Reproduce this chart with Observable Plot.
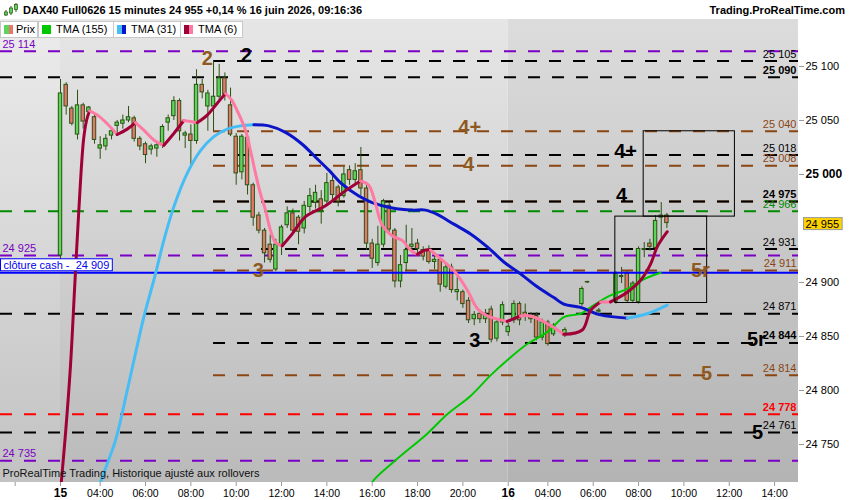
<!DOCTYPE html>
<html><head><meta charset="utf-8">
<script src="https://cdn.jsdelivr.net/npm/d3@7"></script>
<script src="https://cdn.jsdelivr.net/npm/@observablehq/plot@0.6"></script>
<style>
html,body{margin:0;padding:0;background:#fff;}
#wrap{position:relative;width:850px;height:500px;overflow:hidden;font-family:"Liberation Sans",Arial,sans-serif;}
#chart{position:absolute;left:0;top:19px;}
#head{position:absolute;left:0;top:0;width:850px;height:19px;background:#fff;}
#head .t{position:absolute;top:4px;font-weight:bold;font-size:11px;line-height:13px;color:#000;white-space:nowrap;}
.lg{position:absolute;top:21px;height:17px;background:#fff;border:1px solid #c8c8c8;box-sizing:border-box;font-size:11px;line-height:15px;color:#000;white-space:nowrap;}
.sw{position:absolute;top:3px;width:9px;height:9px;}
.sw i{position:absolute;top:0;width:4.5px;height:9px;}
</style></head><body>
<div id="wrap">
  <div id="chart"></div>
  <div id="head">
    <svg style="position:absolute;left:4px;top:3px" width="14" height="14">
      <line x1="2" y1="7" x2="2" y2="13" stroke="#2a5210"/><rect x="0.5" y="9" width="3" height="3" fill="#5ad75a" stroke="#2a5210" stroke-width="0.7"/>
      <line x1="7" y1="3" x2="7" y2="12" stroke="#2a5210"/><rect x="5.5" y="5" width="3" height="5" fill="#5ad75a" stroke="#2a5210" stroke-width="0.7"/>
      <line x1="12" y1="0" x2="12" y2="9" stroke="#2a5210"/><rect x="10.5" y="1.5" width="3" height="5" fill="#5ad75a" stroke="#2a5210" stroke-width="0.7"/>
    </svg>
    <span class="t" style="left:23px">DAX40 Full0626 15 minutes 24 955 +0,14 % 16 juin 2026, 09:16:36</span>
    <span class="t" style="right:5px">Trading.ProRealTime.com</span>
  </div>
  <div class="lg" style="left:0;width:38px"><span class="sw" style="left:3px"><i style="left:0;background:#5ad75a"></i><i style="left:4.5px;background:#e8766e"></i></span><span style="position:absolute;left:15px">Prix</span></div>
  <div class="lg" style="left:38px;width:76px"><span class="sw" style="left:3px;background:#00c800"></span><span style="position:absolute;left:17px">TMA (155)</span></div>
  <div class="lg" style="left:113px;width:68px"><span class="sw" style="left:3px"><i style="left:0;background:#46bdf5"></i><i style="left:4.5px;background:#0a14c8"></i></span><span style="position:absolute;left:17px">TMA (31)</span></div>
  <div class="lg" style="left:180px;width:63px"><span class="sw" style="left:3px"><i style="left:0;background:#a00038"></i><i style="left:4.5px;background:#ff7aa2"></i></span><span style="position:absolute;left:17px">TMA (6)</span></div>
</div>
<script>
// ---------- DATA ----------
// bar index: 0 = 15 juin 02:15, one bar per 15 minutes, 79 = 16 juin 02:15
const candleI = [0,1,2,3,4,5,6,7,8,9,10,11,12,13,14,15,16,17,18,19,20,21,22,23,24,25,26,27,28,29,30,31,32,33,34,35,36,37,38,39,40,41,42,43,44,45,46,47,48,49,50,51,52,53,54,55,56,57,58,59,60,61,62,63,64,65,66,67,68,69,70,71,72,73,74,75,76,77,78,79,80,81,82,83,84,85,86,87,89,92,93,95,98,99,100,101,102,103,104,105,106,107];
const open  = [24925,25083,25061,25037,25064,25058,25053,25024,25026,25036,25045,25047,25050,25052,25033,25028,25023,25024,25027,25048,25054,25068,25036,25037,25031,25083,25063,25063,25072,25089,25064,25035,25002,25034,24990,24962,24948,24935,24912,24935,24953,24964,24960,24950,24970,24974,24977,24975,24994,24988,24980,25004,24995,25004,24987,24936,24918,24935,24971,24948,24901,24918,24933,24936,24930,24930,24919,24921,24896,24914,24891,24891,24883,24866,24871,24866,24875,24848,24863,24854,24865,24880,24872,24868,24869,24849,24863,24852,24851,24880,24900,24873,24882,24905,24908,24883,24882,24930,24936,24932,24960,24962];
const high  = [25088,25085,25063,25078,25066,25063,25055,25035,25037,25043,25050,25055,25063,25054,25035,25030,25028,25029,25046,25055,25072,25070,25040,25046,25097,25088,25078,25105,25102,25094,25080,25038,25037,25036,24992,24965,24950,24944,24940,24953,24970,24968,24962,24975,24987,24990,24985,25001,25000,24990,25007,25008,25010,25025,24990,24940,24952,24977,24974,24950,24925,24953,24950,24940,24933,24934,24926,24923,24918,24917,24905,24893,24886,24873,24874,24875,24878,24866,24882,24862,24883,24882,24880,24872,24872,24866,24865,24862,24858,24896,24901,24876,24910,24914,24910,24901,24933,24937,24940,24962,24974,24964];
const low   = [24915,25055,25045,25032,25042,25055,25028,25014,25022,25032,25036,25042,25048,25030,25022,25010,25018,25016,25024,25040,25050,25031,25024,25006,25028,25070,25040,25040,25068,25068,25035,24990,24995,24981,24952,24945,24918,24918,24910,24925,24950,24945,24935,24945,24965,24968,24954,24972,24975,24970,24978,24990,24990,24980,24930,24913,24915,24932,24945,24895,24895,24910,24928,24925,24920,24917,24912,24891,24894,24890,24883,24876,24862,24860,24862,24862,24844,24845,24860,24850,24862,24860,24864,24862,24846,24846,24841,24850,24849,24878,24899,24871,24880,24899,24881,24881,24880,24923,24929,24930,24940,24950];
const close = [25075,25063,25047,25064,25049,25062,25032,25027,25033,25040,25048,25050,25053,25033,25026,25018,25026,25027,25044,25052,25068,25040,25038,25031,25083,25076,25075,25072,25089,25074,25037,25001,25035,24990,24960,24948,24927,24921,24935,24951,24964,24948,24947,24971,24980,24983,24966,24992,24981,24975,25000,24995,25003,24987,24936,24922,24935,24975,24949,24901,24916,24930,24935,24931,24924,24919,24921,24898,24914,24893,24893,24880,24865,24870,24866,24870,24847,24863,24879,24859,24880,24865,24868,24866,24849,24863,24843,24860,24856,24894,24900.5,24874,24908,24906,24883,24899,24931,24931,24933,24957,24962,24955];

// TMA (6): points; up = 1 rising (dark red), 0 falling (pink)
const tma6I = [0,0.88,1.76,2.47,3.18,4.06,4.59,5.12, 6.76,8.24,10.0, 11.77,13.23, 14.70,16.46,18.23, 19.99,21.76, 22.94,24.12, 25.89,27.65,29.12, 30.17,31.18,32.64,33.53,34.41,35.29,36.17,37.06,37.94,39.12, 40.89,43.23,46.76,50.29,52.94, 54.40,55.58,56.77,58.53,60.30,61.76,62.94, 64.41,65.29, 67.05,69.40,71.77,73.53,75.30,78.82, 81.17, 82.94,85.88,88.81, 92.06,93.52,95.29, 97.05, 100.0,102.35,104.12,105.29,107.06];
const tma6P = [24707,24760,24823,24893,24962,25032,25050,25059, 25054,25047,25037, 25042,25048, 25041,25032,25027, 25038,25050, 25049,25048, 25055,25066,25075, 25069,25059,25041,25022,25001,24982,24967,24948,24937,24934, 24945,24961,24971,24985,24994, 24990,24973,24953,24943,24939,24930,24926, 24930,24930, 24922,24911,24893,24876,24869,24864, 24869, 24869,24862,24852, 24856,24874,24882, 24882, 24891,24902,24917,24933,24947];
const tma6Up = [1,1,1,1,1,1,1,1, 0,0,0, 1,1, 0,0,0, 1,1, 0,0, 1,1,1, 0,0,0,0,0,0,0,0,0,0, 1,1,1,1,1, 0,0,0,0,0,0,0, 1,1, 0,0,0,0,0,0, 1, 0,0,0, 1,1,1, 0, 1,1,1,1,1];

// TMA (31): up = 1 light blue, 0 dark blue
const tma31I = [6.71,7.06,9.71,11.77,14.70,16.76,18.23,19.99,22.35,24.70,27.05,29.42,31.76,34.11, 36.76,39.70,42.65,45.00,47.35,49.71,52.64,55.00,58.53,62.06,64.41,66.47,69.40,72.35,75.30,78.23,81.17,84.12,87.05,88.81,91.76,95.29,100.0, 103.53,107.06];
const tma31P = [24707,24715,24754,24800,24868,24908,24939,24970,25001,25022,25035,25042,25045,25046, 25045,25039,25028,25016,25004,24991,24980,24974,24969,24967,24967,24963,24954,24945,24933,24919,24908,24896,24886,24880,24877,24870,24867, 24871,24879];
const tma31Up = [1,1,1,1,1,1,1,1,1,1,1,1,1,1, 0,0,0,0,0,0,0,0,0,0,0,0,0,0,0,0,0,0,0,0,0,0,0, 1,1];

// TMA (155)
const tma155I = [54.70,55.00,58.81,64.71,68.24,72.35,75.88,78.82,82.35,85.88,88.81,90.58,91.76,94.11,97.05,100.0,102.93,105.88];
const tma155P = [24707,24715,24734,24760,24778,24795,24814,24828,24843,24854,24868,24870,24871,24879,24888,24894,24903,24909];

// horizontal levels
const levelValues = [25114,25105,25090,25040,25018,25008,24975,24975,24966,24931,24925,24911,24871,24844,24814,24778,24761,24735];
const levelColors = ["#7a00c4","#000000","#000000","#8b4513","#000000","#8b4513","#8b4513","#000000","#008a00","#000000","#7a00c4","#8b4513","#000000","#000000","#8b4513","#ff0000","#000000","#7a00c4"];
const levelFrom   = ["all","wave2","all","wave2","wave2","wave2","wave2","wave2","all","wave2","all","wave2","all","wave2","wave2","all","all","all"];
const wave2Start = 27; // bar of the "2" high

const rightLabelValues = [25105,25090,25040,25018,25008,24975,24966,24931,24911,24871,24844,24814,24778,24761];
const rightLabelColors = ["#000","#000","#8b4513","#000","#8b4513","#000","#008a00","#000","#8b4513","#000","#000","#8b4513","#ff0000","#000"];
const rightLabelBold   = [0,1,0,0,0,1,0,0,0,0,1,0,1,0];
const leftLabelValues = [25114,24925,24735];

const cashClose = 24909;
const lastPrice = 24955;

const waveText  = ["2","2","3","3","4+","4","4+","4","5r","5r","5","5"];
const waveI     = [25.9,32.8,34.9,73.1,72.2,72.0,99.7,99.0,112.9,122.8,114.0,123.0];
const waveP     = [25107,25110,24911,24846,25043,25009,25021,24980,24911,24847,24816,24761];
const waveColor = ["#8f5a1f","#000","#8f5a1f","#000","#8f5a1f","#8f5a1f","#000","#000","#8f5a1f","#000","#8f5a1f","#000"];

// projection boxes
const boxI1 = [102.9, 97.9], boxI2 = [119.0, 114.1];
const boxP1 = [25040, 24961], boxP2 = [24961, 24881];

const yTicks = [24750,24800,24850,24900,25000,25050,25100];
const xTickIdx = [-8,0,7,15,23,31,39,47,55,63,71,79,86,94,102,110,118,126];
const xTickLabels = ["","15","04:00","06:00","08:00","10:00","12:00","14:00","16:00","18:00","20:00","16","04:00","06:00","08:00","10:00","12:00","14:00"];
const dayTicks = [0,79];

const X0 = -10.59, X1 = 130.22, Y0 = 24714.8, Y1 = 25143.5;
const sessions = [{a:X0,b:0,g:"g0"},{a:0,b:79,g:"g1"},{a:79,b:X1,g:"g2"}];

// ---------- BUILD ----------
const fmt = v => d3.format(",")(Math.round(v)).replace(/,/g, " ");
const candles = candleI.map((i,k)=>({i, o:open[k], h:high[k], l:low[k], c:close[k]}));
function segs(I,P,U){
  const out=[]; let s=0;
  for(let k=1;k<I.length;k++){
    if(k===1 || U[k]!==U[k-1]){ s++; out.push({i:I[k-1],p:P[k-1],s,up:U[k]}); }
    out.push({i:I[k],p:P[k],s,up:U[k]});
  }
  return out;
}
const t6 = segs(tma6I,tma6P,tma6Up);
const t31 = segs(tma31I,tma31P,tma31Up);
const t155 = tma155I.map((i,k)=>({i,p:tma155P[k]}));
const levels = levelValues.map((v,k)=>({v, c:levelColors[k], from: levelFrom[k]==="all"?X0:wave2Start, to:X1}));
const rl = rightLabelValues.map((v,k)=>({v,c:rightLabelColors[k],b:rightLabelBold[k]}));
const waves = waveText.map((t,k)=>({t,i:waveI[k],p:waveP[k],c:waveColor[k]}));
const boxes = boxI1.map((a,k)=>({a,b:boxI2[k],p1:boxP1[k],p2:boxP2[k]}));
const xLab = new Map(xTickIdx.map((v,k)=>[v,xTickLabels[k]]));
const cashText = "clôture cash - \u00a024 909";

const GREEN="#5ad75a", RED="#e8766e", EDGE="#2a5210";
const font = '"Liberation Sans", Arial, sans-serif';

const chart = Plot.plot({
  width: 850, height: 481,
  marginTop: 0, marginBottom: 18, marginLeft: 0, marginRight: 52,
  x: {domain: [X0, X1], axis: null},
  y: {domain: [Y0, Y1], axis: null},
  color: {type: "identity"},
  style: {fontFamily: font, background: "white", overflow: "visible"},
  marks: [
    ...sessions.map(s => Plot.rect([s], {x1:"a", x2:"b", y1:()=>Y0, y2:()=>Y1, fill:`url(#${s.g})`})),
    Plot.ruleY(levels, {y:"v", x1:"from", x2:"to", stroke:"c", strokeWidth:2, strokeDasharray:"12,12"}),
    Plot.ruleX(candles, {x:"i", y1:"l", y2:"h", stroke:EDGE, strokeWidth:1}),
    Plot.rect(candles, {x1:d=>d.i-0.3, x2:d=>d.i+0.3, y1:"o", y2:"c", fill:d=>d.c>=d.o?GREEN:RED, stroke:EDGE, strokeWidth:1}),
    Plot.ruleY([cashClose], {stroke:"#0000ff", strokeWidth:2}),
    Plot.line(t155, {x:"i", y:"p", stroke:"#00c800", strokeWidth:2, curve:"catmull-rom", clip:true}),
    Plot.line(t31, {x:"i", y:"p", z:"s", stroke:d=>d.up?"#46bdf5":"#0a14c8", strokeWidth:3, curve:"catmull-rom", clip:true}),
    Plot.line(t6, {x:"i", y:"p", z:"s", stroke:d=>d.up?"#a00038":"#ff7aa2", strokeWidth:3, curve:"catmull-rom", clip:true}),
    Plot.rect(boxes, {x1:"a", x2:"b", y1:"p1", y2:"p2", fill:"none", stroke:"#000", strokeWidth:1}),
    Plot.text(waves, {x:"i", y:"p", text:"t", fill:"c", fontSize:20, fontWeight:"bold"}),
    Plot.text(rl.filter(d=>!d.b), {y:"v", text:d=>fmt(d.v), fill:"c", frameAnchor:"right", textAnchor:"end", dx:-2, dy:-7, fontSize:11}),
    Plot.text(rl.filter(d=>d.b), {y:"v", text:d=>fmt(d.v), fill:"c", frameAnchor:"right", textAnchor:"end", dx:-2, dy:-7, fontSize:11, fontWeight:"bold"}),
    Plot.text(leftLabelValues, {y:d=>d, text:d=>fmt(d), fill:"#7a00c4", frameAnchor:"left", textAnchor:"start", dx:2, dy:-7, fontSize:11}),
    Plot.text([cashClose], {y:d=>d, text:()=>cashText, fill:"#0000ee", frameAnchor:"left", textAnchor:"start", dx:3, dy:-7.5, fontSize:11}),
    Plot.text(["ProRealTime Trading, Historique ajusté aux rollovers"], {text:d=>d, frameAnchor:"bottom-left", dx:2, dy:-6, fontSize:11, fill:"#111"}),
    Plot.axisY({anchor:"right", ticks:yTicks.filter(v=>v!==25000), tickFormat:fmt, tickSize:5, tickPadding:2, fontSize:11, stroke:"#999", fill:"#000", label:null}),
    Plot.axisY({anchor:"right", ticks:[25000], tickFormat:fmt, tickSize:5, tickPadding:2, fontSize:12, fontWeight:"bold", stroke:"#999", fill:"#000", label:null}),
    Plot.text([lastPrice], {y:d=>d, text:d=>fmt(d), frameAnchor:"right", textAnchor:"start", dx:7, dy:1, fontSize:11, fill:"#000"}),
    Plot.axisX({anchor:"bottom", ticks:xTickIdx.filter(v=>!dayTicks.includes(v)), tickFormat:v=>xLab.get(v), tickSize:4, tickPadding:3, fontSize:10.5, stroke:"#999", fill:"#000", label:null}),
    Plot.axisX({anchor:"bottom", ticks:dayTicks, tickFormat:v=>xLab.get(v), tickSize:4, tickPadding:2, fontSize:12, fontWeight:"bold", stroke:"#999", fill:"#000", label:null})
  ]
});

const ns = "http://www.w3.org/2000/svg";
const defs = document.createElementNS(ns, "defs");
defs.innerHTML =
  '<linearGradient id="g0" x1="0" y1="0" x2="0" y2="1"><stop offset="0" stop-color="#ececec"/><stop offset="1" stop-color="#c2c2c2"/></linearGradient>' +
  '<linearGradient id="g1" x1="0" y1="0" x2="0" y2="1"><stop offset="0" stop-color="#e6e6e6"/><stop offset="1" stop-color="#bababa"/></linearGradient>' +
  '<linearGradient id="g2" x1="0" y1="0" x2="0" y2="1"><stop offset="0" stop-color="#dcdcdc"/><stop offset="1" stop-color="#b3b3b3"/></linearGradient>';
chart.insertBefore(defs, chart.firstChild);
document.getElementById("chart").appendChild(chart);

function boxAround(label, fill, stroke, padL, padR){
  chart.querySelectorAll("text").forEach(t=>{
    if (t.textContent === label) {
      const b = t.getBBox();
      const r = document.createElementNS(ns, "rect");
      r.setAttribute("x", b.x - padL); r.setAttribute("y", b.y);
      r.setAttribute("width", b.width + padL + padR); r.setAttribute("height", b.height);
      r.setAttribute("fill", fill); r.setAttribute("stroke", stroke); r.setAttribute("stroke-width", 1);
      if (t.getAttribute("transform")) r.setAttribute("transform", t.getAttribute("transform"));
      t.parentNode.insertBefore(r, t);
    }
  });
}
boxAround(cashText, "#fff", "#0000ff", 3, 3);
boxAround(fmt(lastPrice), "#ffd200", "#999", 2, 3);
</script>
</body></html>
